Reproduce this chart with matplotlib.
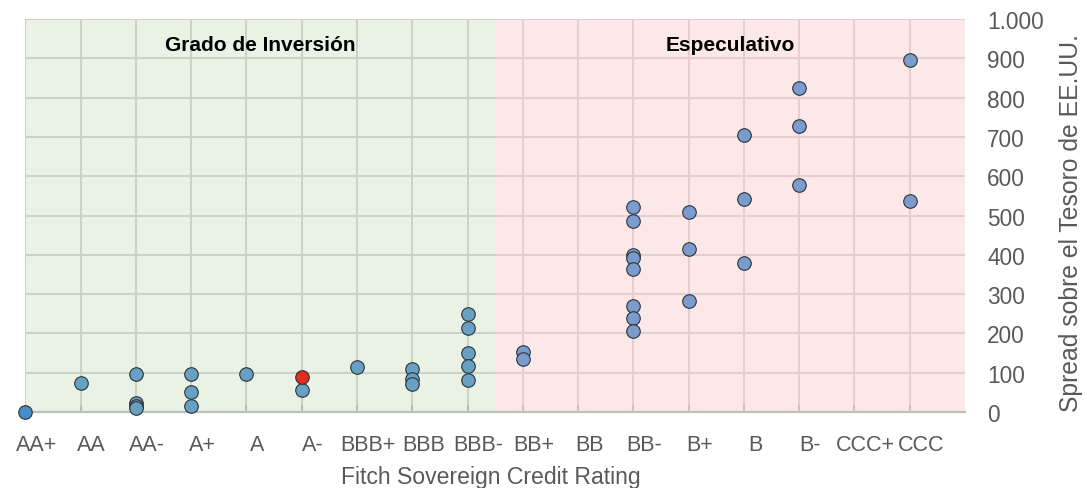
import matplotlib
matplotlib.use("Agg")
import matplotlib.pyplot as plt
from matplotlib.ticker import FuncFormatter, MultipleLocator
from matplotlib.transforms import ScaledTranslation

plt.rcParams['font.family'] = ['Liberation Sans', 'DejaVu Sans']

# Fitch rating scale on the x axis
ratings = ['AA+', 'AA', 'AA-', 'A+', 'A', 'A-', 'BBB+', 'BBB', 'BBB-',
           'BB+', 'BB', 'BB-', 'B+', 'B', 'B-', 'CCC+', 'CCC']

# US itself (spread 0)
us_rating = ['AA+']
us_spread = [0]

# investment grade countries
inv_rating = ['AA', 'AA-', 'AA-', 'AA-', 'AA-', 'A+', 'A+', 'A+', 'A', 'A-',
              'BBB+', 'BBB', 'BBB', 'BBB',
              'BBB-', 'BBB-', 'BBB-', 'BBB-', 'BBB-']
inv_spread = [74, 96, 22, 16, 11, 97, 52, 15, 97, 55,
              114, 110, 83, 71,
              249, 215, 151, 117, 81]

# highlighted country
hl_rating = ['A-']
hl_spread = [89]

# speculative grade countries
spec_rating = ['BB+', 'BB+',
               'BB-', 'BB-', 'BB-', 'BB-', 'BB-', 'BB-', 'BB-', 'BB-',
               'B+', 'B+', 'B+', 'B', 'B', 'B', 'B-', 'B-', 'B-',
               'CCC', 'CCC']
spec_spread = [153, 134,
               522, 487, 399, 392, 365, 270, 240, 206,
               510, 414, 283, 705, 542, 380, 825, 729, 578,
               895, 538]

zones = ['Grado de Inversión', 'Especulativo']


def pos(labels):
    return [ratings.index(r) for r in labels]


fig = plt.figure(figsize=(10.87, 4.89), dpi=100)
ax = fig.add_axes([0.0233, 0.1554, 0.8645, 0.8037])

n = len(ratings)
split = ratings.index('BBB-') + 0.5
ax.set_xlim(0, n)
ax.set_ylim(0, 1000)

# background zones, semi transparent over the grid
ax.axvspan(0, split, color=(144/255, 188/255, 116/255), alpha=0.18, lw=0, zorder=1)
ax.axvspan(split, n, color=(249/255, 190/255, 190/255), alpha=0.34, lw=0, zorder=1)

ax.set_axisbelow(True)
ax.xaxis.set_major_locator(MultipleLocator(1))
ax.yaxis.set_major_locator(MultipleLocator(100))
ax.grid(True, color='#d9d9d9', lw=1.5)

dot = dict(s=95, edgecolors='#2b3338', linewidths=0.8, zorder=3, clip_on=False)
ax.scatter(pos(inv_rating), inv_spread, c='#68a0c4', **dot)
ax.scatter(pos(spec_rating), spec_spread, c='#7a9bcc', **dot)
ax.scatter(pos(us_rating), us_spread, c='#4a8cc8', **dot)
ax.scatter(pos(hl_rating), hl_spread, c='#e52a1e', **dot)

# zone titles, centred on each zone
ax.text(split / 2, 922, zones[0], ha='center', va='baseline',
        fontsize=15, fontweight='bold', color='black')
ax.text((split + n) / 2, 922, zones[1], ha='center', va='baseline',
        fontsize=15, fontweight='bold', color='black')

# x tick labels
ax.set_xticks(range(n))
ax.set_xticklabels(ratings)
ax.tick_params(axis='x', direction='in', length=5, width=1.5, color='#bcc2b6',
               labelsize=15.5, labelcolor='#595959', pad=16)
shift = ScaledTranslation(0.11, 0, fig.dpi_scale_trans)
for lbl in ax.get_xticklabels():
    lbl.set_transform(lbl.get_transform() + shift)

# y axis on the right, spanish thousands separator
ax.yaxis.tick_right()
ax.yaxis.set_major_formatter(FuncFormatter(lambda v, p: f'{int(v):,}'.replace(',', '.')))
ax.tick_params(axis='y', length=0, labelsize=16.3, labelcolor='#595959', pad=16)

for side in ['top', 'left', 'right']:
    ax.spines[side].set_visible(False)
ax.spines['bottom'].set_color('#bcc2b6')
ax.spines['bottom'].set_linewidth(1.6)

fig.text(490.8 / 1087, 1 - 484 / 489, 'Fitch Sovereign Credit Rating', ha='center',
         va='baseline', fontsize=16.6, color='#595959')
fig.text(1071 / 1087, 1 - 223 / 489, 'Spread sobre el Tesoro de EE.UU.', rotation=90,
         ha='center', va='center', fontsize=17.8, color='#595959')

fig.savefig('out.png', dpi=100)
